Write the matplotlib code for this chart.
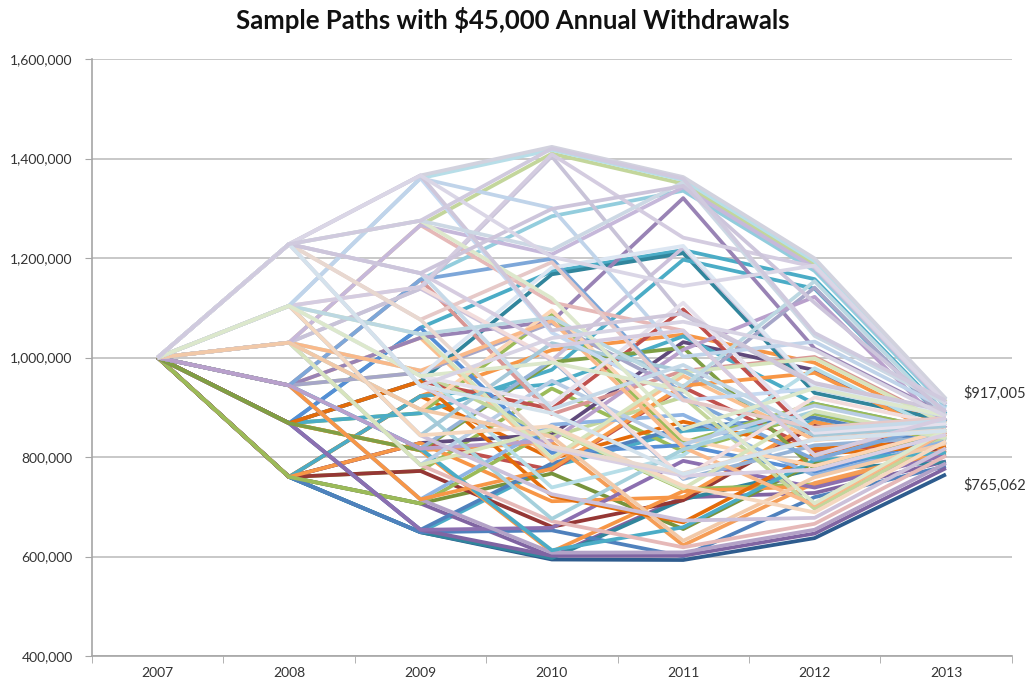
import matplotlib
matplotlib.use("Agg")
import matplotlib.pyplot as plt
from matplotlib.ticker import FuncFormatter, FixedLocator

plt.rcParams["font.family"] = ["Lato", "DejaVu Sans"]

# Portfolio value paths, in $ thousands, one row per path (2007..2013)
years = ["2007", "2008", "2009", "2010", "2011", "2012", "2013"]

# paths whose first year is the -19.5% year
paths_f = [
    [1000, 760.0, 648.9, 594.0, 593.0, 637.0, 765.062],
    [1000, 760.0, 922.5, 1015.0, 1046.0, 989.6, 858.5],
    [1000, 760.0, 648.9, 781.0, 852.4, 871.3, 816.7],
    [1000, 760.0, 706.6, 600.1, 718.9, 727.8, 791.2],
    [1000, 760.0, 772.0, 937.8, 811.2, 887.1, 832.3],
    [1000, 760.0, 828.2, 774.1, 940.4, 813.6, 829.6],
    [1000, 760.0, 648.9, 596.8, 714.7, 776.2, 789.4],
    [1000, 760.0, 922.5, 797.2, 871.0, 816.4, 832.6],
    [1000, 760.0, 706.6, 766.9, 655.2, 789.1, 803.3],
    [1000, 760.0, 828.2, 845.3, 1031.0, 974.7, 844.9],
    [1000, 760.0, 648.9, 652.6, 600.4, 719.3, 781.5],
    [1000, 760.0, 772.0, 659.8, 713.1, 862.8, 808.3],
    [1000, 760.0, 922.5, 946.7, 1042.8, 907.1, 852.1],
    [1000, 760.0, 828.2, 711.1, 719.4, 870.8, 816.2],
    [1000, 760.0, 706.6, 854.5, 735.2, 745.3, 811.4],
]

# first year -8.7%
paths_e = [
    [1000, 868.0, 653.7, 601.5, 601.6, 646.2, 777.6],
    [1000, 868.0, 1060.0, 1173.0, 1216.0, 1157.6, 886.9],
    [1000, 868.0, 653.7, 787.2, 859.5, 879.0, 824.3],
    [1000, 868.0, 813.5, 609.9, 731.4, 741.3, 806.8],
    [1000, 868.0, 888.1, 1085.6, 828.9, 907.4, 852.4],
    [1000, 868.0, 952.3, 896.8, 1096.6, 837.8, 855.6],
    [1000, 868.0, 1060.0, 808.3, 823.9, 769.8, 839.5],
    [1000, 868.0, 813.5, 829.5, 622.7, 747.7, 814.1],
    [1000, 868.0, 952.3, 1167.3, 1209.8, 928.9, 873.7],
    [1000, 868.0, 653.7, 657.7, 792.3, 738.6, 803.6],
    [1000, 868.0, 888.1, 975.4, 1196.7, 1138.5, 871.5],
    [1000, 868.0, 952.3, 721.6, 668.7, 806.2, 821.7],
    [1000, 868.0, 813.5, 990.6, 1019.9, 776.0, 846.6],
]

# first year -1.1%
paths_d = [
    [1000, 944.0, 1156.7, 1284.0, 1335.3, 1174.1, 900.2],
    [1000, 944.0, 714.9, 607.7, 608.3, 653.9, 787.4],
    [1000, 944.0, 816.9, 994.9, 755.9, 823.5, 840.3],
    [1000, 944.0, 1039.7, 792.0, 963.2, 834.4, 852.0],
    [1000, 944.0, 969.8, 840.4, 920.6, 696.1, 841.1],
    [1000, 944.0, 1156.7, 886.1, 973.1, 1001.1, 869.0],
    [1000, 944.0, 714.9, 865.0, 884.9, 762.9, 831.6],
    [1000, 944.0, 1039.7, 1072.7, 1320.5, 1018.0, 884.4],
    [1000, 944.0, 816.9, 612.6, 658.9, 793.8, 808.3],
    [1000, 944.0, 969.8, 1069.3, 931.3, 1140.5, 873.1],
    [1000, 944.0, 714.9, 776.4, 943.4, 969.2, 839.9],
    [1000, 944.0, 1156.7, 1198.5, 919.8, 794.8, 868.2],
    [1000, 944.0, 816.9, 833.2, 1015.7, 1122.0, 858.2],
]

# first year +7.5%
paths_c = [
    [1000, 1030.0, 1266.2, 1409.9, 1349.4, 1187.0, 910.5],
    [1000, 1030.0, 784.2, 671.0, 618.6, 665.8, 802.6],
    [1000, 1030.0, 895.4, 1094.8, 836.3, 782.1, 853.6],
    [1000, 1030.0, 973.7, 738.8, 803.9, 978.4, 848.3],
    [1000, 1030.0, 1138.5, 994.4, 1220.9, 937.8, 882.5],
    [1000, 1030.0, 784.2, 953.3, 825.4, 903.4, 848.5],
    [1000, 1030.0, 1266.2, 1111.0, 1053.8, 803.3, 878.0],
    [1000, 1030.0, 973.7, 1073.8, 819.4, 703.1, 850.0],
    [1000, 1030.0, 895.4, 675.8, 815.3, 891.8, 837.0],
    [1000, 1030.0, 1138.5, 1404.3, 1085.5, 946.0, 890.6],
    [1000, 1030.0, 784.2, 856.0, 736.5, 892.6, 837.8],
    [1000, 1030.0, 1266.2, 1207.3, 1342.2, 1180.4, 905.2],
    [1000, 1030.0, 895.4, 840.6, 631.7, 759.2, 827.3],
]

# first year +14.9%
paths_b = [
    [1000, 1104.0, 1360.4, 1417.4, 1356.8, 1193.8, 916.0],
    [1000, 1104.0, 843.7, 725.3, 672.3, 677.7, 817.7],
    [1000, 1104.0, 962.9, 1180.8, 1224.4, 940.6, 885.3],
    [1000, 1104.0, 1046.9, 797.8, 970.6, 998.4, 866.5],
    [1000, 1104.0, 1141.8, 997.5, 758.0, 919.9, 864.8],
    [1000, 1104.0, 843.7, 1029.0, 972.7, 843.1, 861.3],
    [1000, 1104.0, 1360.4, 1050.1, 913.7, 937.2, 881.9],
    [1000, 1104.0, 962.9, 907.3, 1110.0, 848.6, 867.2],
    [1000, 1104.0, 1046.9, 1080.4, 941.4, 1153.4, 883.5],
    [1000, 1104.0, 1141.8, 1408.5, 1241.0, 1182.3, 906.8],
    [1000, 1104.0, 843.7, 862.0, 742.0, 688.8, 831.8],
    [1000, 1104.0, 1360.4, 1300.4, 1001.8, 1031.9, 897.1],
    [1000, 1104.0, 962.9, 990.1, 934.2, 707.0, 855.0],
]

# first year +27.3%
paths_a = [
    [1000, 1228.0, 1366.0, 1423.5, 1362.8, 1199.3, 917.005],
    [1000, 1228.0, 943.5, 816.4, 762.4, 774.6, 845.0],
    [1000, 1228.0, 1076.2, 1191.6, 914.2, 859.1, 878.5],
    [1000, 1228.0, 1169.5, 896.4, 985.0, 854.3, 873.4],
    [1000, 1228.0, 1275.1, 1119.2, 856.0, 938.5, 883.2],
    [1000, 1228.0, 1366.0, 1054.6, 1088.7, 949.0, 893.6],
    [1000, 1228.0, 943.5, 1039.1, 1072.0, 1015.2, 881.9],
    [1000, 1228.0, 1076.2, 821.3, 767.3, 836.6, 854.3],
    [1000, 1228.0, 1275.1, 1216.1, 1352.3, 1043.6, 907.8],
    [1000, 1228.0, 1169.5, 1022.7, 1054.4, 803.8, 878.6],
    [1000, 1228.0, 1169.5, 1298.8, 1345.0, 1110.0, 890.0],
    [1000, 1228.0, 1366.0, 1202.2, 1144.0, 1184.8, 908.8],
    [1000, 1228.0, 943.5, 888.1, 765.8, 834.9, 852.5],
    [1000, 1228.0, 1275.1, 1420.1, 1359.5, 1049.4, 913.1],
]

best_end = 917005
worst_end = 765062

# colours get paler the later a group is drawn
palettes = [
    ["#2E5C8E", "#F79646", "#4BACC6", "#8064A2", "#9BBB59", "#C0504D",
     "#31859C", "#E46C0A", "#77933C", "#604A7B", "#4F81BD", "#953735",
     "#4BACC6", "#F79646", "#9BBB59"],
    ["#8064A2", "#4BACC6", "#4F81BD", "#F79646", "#9BBB59", "#C0504D",
     "#558ED5", "#F59D56", "#31859C", "#8C6FB0", "#4BACC6", "#E46C0A",
     "#7F9F45"],
    ["#93CDDD", "#B3A2C7", "#95B3D7", "#FAC090", "#C3D69B", "#D99694",
     "#8EB4E3", "#9983B5", "#4BACC6", "#A6A6C8", "#F79646", "#7DA7D9",
     "#B9A0CC"],
    ["#C3D69B", "#E6B9B8", "#FCD5B5", "#B7DEE8", "#CCC1DA", "#B9CDE5",
     "#E6B9B8", "#F9B98A", "#A5D0DC", "#C8C3D8", "#D7E4BD", "#C6B8DA",
     "#F2C9A8"],
    ["#B7DEE8", "#CCC1DA", "#DCE6F2", "#D7E4BD", "#F2DCDB", "#A5C8D8",
     "#C6D9F1", "#E5E0EC", "#BCD8E2", "#D4CCE0", "#F5D8C0", "#C0D4EA",
     "#DCE8CC"],
    ["#D2D2DE", "#D9CFE3", "#E6C9C8", "#C6D9E8", "#DDE8CC", "#CFC7DA",
     "#D8D4E4", "#E8D8D0", "#CCD8E4", "#D6CCE0", "#CDC5DB", "#DAD6E6",
     "#D4E2EC", "#D0CADE"],
]

groups = [paths_f, paths_e, paths_d, paths_c, paths_b, paths_a]

fig = plt.figure(figsize=(10.26, 6.85), dpi=100)
ax = fig.add_axes([0.0897, 0.0423, 0.8963, 0.8715])

x = list(range(len(years)))
for paths, cols in zip(groups, palettes):
    for i, p in enumerate(paths):
        ax.plot(x, p, color=cols[i % len(cols)], lw=2.7, solid_joinstyle="round",
                solid_capstyle="butt", zorder=2)

ax.set_xlim(-0.5, len(years) - 0.5)
ax.set_ylim(400, 1600)
ax.yaxis.set_major_locator(FixedLocator([400, 600, 800, 1000, 1200, 1400, 1600]))
ax.yaxis.set_major_formatter(FuncFormatter(lambda v, pos: f"{v * 1000:,.0f}"))
ax.set_xticks(x)
ax.set_xticklabels(years)
ax.set_xticks([i + 0.5 for i in range(-1, len(years))], minor=True)

ax.grid(axis="y", color="#BFBFBF", lw=1.2, zorder=0)
ax.set_axisbelow(True)
for s in ["top", "right"]:
    ax.spines[s].set_visible(False)
for s in ["left", "bottom"]:
    ax.spines[s].set_color("#A6A6A6")
    ax.spines[s].set_linewidth(1.2)

ax.tick_params(axis="x", which="major", length=0, pad=8, labelsize=10, labelcolor="#333333")
ax.tick_params(axis="x", which="minor", length=5, color="#A6A6A6", direction="out")
ax.tick_params(axis="y", length=5, color="#A6A6A6", pad=9, labelsize=10, labelcolor="#333333")

ax.text(6.13, best_end / 1000 + 12, f"${best_end:,}", fontsize=10.5, color="#333333",
        va="center", ha="left", clip_on=False)
ax.text(6.13, worst_end / 1000 - 21, f"${worst_end:,}", fontsize=10.5, color="#333333",
        va="center", ha="left", clip_on=False)

fig.suptitle(r"Sample Paths with \$45,000 Annual Withdrawals", fontsize=18.5,
             fontweight="bold", x=0.5, y=0.99, color="#111111")

fig.savefig("out.png", dpi=100)
